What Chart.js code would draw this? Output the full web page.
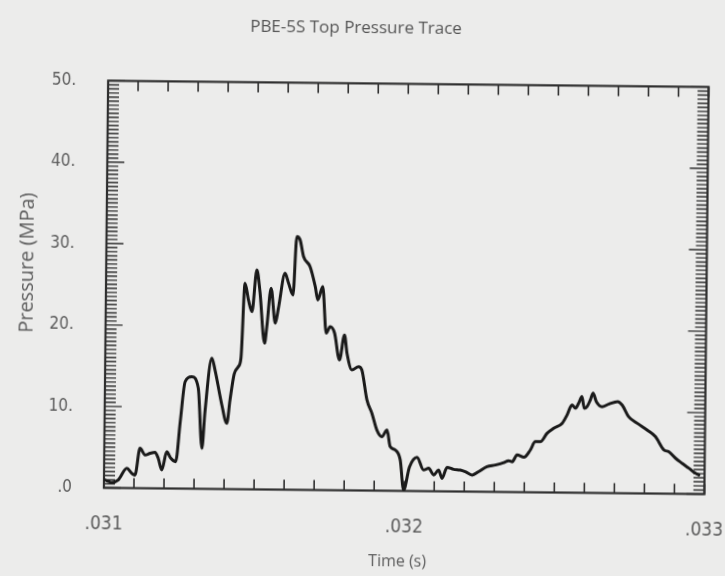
<!DOCTYPE html>
<html>
<head>
<meta charset="utf-8">
<script src="https://cdn.jsdelivr.net/npm/chart.js@4/dist/chart.umd.min.js"></script>
<style>
  html, body { margin: 0; padding: 0; background: #ececeb; overflow: hidden; }
  #wrap { width: 725px; height: 576px; transform: rotate(0.6deg); transform-origin: 50% 50%; }
  canvas { display: block; }
</style>
</head>
<body>
<div id="wrap"><canvas id="c" width="725" height="576"></canvas></div>
<script>
// Top pressure trace, time in seconds, pressure in MPa
const timeSec = [
  0.031003, 0.031026, 0.031047, 0.031076, 0.031092, 0.031103, 0.031119, 0.031136,
  0.031153, 0.031169, 0.031180, 0.031192, 0.031208, 0.031222, 0.031238, 0.031252,
  0.031267, 0.031289, 0.031311, 0.031325, 0.031334, 0.031355, 0.031366, 0.031390,
  0.031407, 0.031417, 0.031430, 0.031443, 0.031452, 0.031463, 0.031475, 0.031487,
  0.031502, 0.031513, 0.031530, 0.031537, 0.031550, 0.031565, 0.031575, 0.031596,
  0.031608, 0.031623, 0.031634, 0.031645, 0.031657, 0.031679, 0.031697, 0.031706,
  0.031722, 0.031735, 0.031748, 0.031763, 0.031780, 0.031796, 0.031805, 0.031822,
  0.031844, 0.031855, 0.031873, 0.031890, 0.031907, 0.031924, 0.031941, 0.031952,
  0.031969, 0.031986, 0.031998, 0.032017, 0.032042, 0.032064, 0.032081, 0.032098,
  0.032114, 0.032126, 0.032142, 0.032164, 0.032186, 0.032203, 0.032226, 0.032247,
  0.032275, 0.032303, 0.032331, 0.032347, 0.032359, 0.032375, 0.032398, 0.032419,
  0.032435, 0.032452, 0.032474, 0.032496, 0.032524, 0.032540, 0.032556, 0.032568,
  0.032578, 0.032589, 0.032597, 0.032606, 0.032617, 0.032626, 0.032637, 0.032656,
  0.032678, 0.032708, 0.032723, 0.032745, 0.032774, 0.032807, 0.032835, 0.032864,
  0.032880, 0.032903, 0.032925, 0.032948, 0.032970, 0.032981
];
const pressureMPa = [
  0.96, 0.68, 0.98, 2.42, 1.82, 1.61, 4.90, 4.08,
  4.30, 4.43, 3.69, 2.26, 4.51, 3.71, 3.30, 8.22,
  13.14, 13.76, 12.34, 4.98, 9.48, 16.05, 14.61, 10.32,
  8.08, 10.95, 14.15, 15.01, 16.12, 25.30, 23.26, 21.82,
  26.95, 24.29, 17.96, 20.00, 24.72, 20.43, 22.28, 26.58,
  25.36, 23.93, 31.09, 30.69, 28.65, 27.43, 24.98, 23.35,
  24.99, 19.27, 20.08, 19.28, 16.00, 19.08, 16.83, 14.79,
  15.20, 14.80, 11.12, 9.50, 7.45, 6.63, 7.46, 5.42,
  5.02, 3.79, 0.11, 2.95, 4.15, 2.60, 2.81, 2.00,
  2.62, 1.60, 2.96, 2.72, 2.64, 2.44, 2.04, 2.46,
  3.08, 3.30, 3.60, 3.85, 3.73, 4.56, 4.29, 5.19,
  6.22, 6.22, 7.26, 7.89, 8.51, 9.54, 10.77, 10.37,
  10.99, 11.81, 10.38, 10.58, 11.41, 12.24, 11.21, 10.60,
  10.91, 11.24, 10.84, 9.41, 8.61, 7.80, 6.99, 5.36,
  5.16, 4.36, 3.75, 3.15, 2.54, 2.34
];

// Axis ranges and labelled ticks
const timeRange = [0.031, 0.033];
const pressureRange = [0, 50];
const timeTicks = [0.031, 0.032, 0.033];
const pressureTicks = [0, 10, 20, 30, 40, 50];
const timeMinorStep = 0.0001;
const pressureMinorStep = 0.5;
const pressureMajorStep = 10;

const inkColor = '#2e2e2e';
const labelColor = '#5c5c5c';
const narrowFont = '"Liberation Sans Narrow", "DejaVu Sans Condensed", "Open Sans", sans-serif';
const textFont = '"Open Sans", "DejaVu Sans", sans-serif';

// Plot frame with inward-pointing tick marks on all four sides
const frameTicks = {
  id: 'frameTicks',
  beforeDatasetsDraw(chart) {
    const { ctx, chartArea: a, scales } = chart;
    const xs = scales.x, ys = scales.y;
    ctx.save();
    ctx.strokeStyle = inkColor;
    ctx.lineCap = 'butt';

    ctx.lineWidth = 1.6;
    const nx = Math.round((timeRange[1] - timeRange[0]) / timeMinorStep);
    for (let i = 0; i <= nx; i++) {
      const px = xs.getPixelForValue(timeRange[0] + i * timeMinorStep);
      ctx.beginPath();
      ctx.moveTo(px, a.bottom); ctx.lineTo(px, a.bottom - 10);
      ctx.moveTo(px, a.top); ctx.lineTo(px, a.top + 10);
      ctx.stroke();
    }

    ctx.lineWidth = 1.4;
    const ny = Math.round((pressureRange[1] - pressureRange[0]) / pressureMinorStep);
    const perMajor = Math.round(pressureMajorStep / pressureMinorStep);
    for (let i = 0; i <= ny; i++) {
      const py = ys.getPixelForValue(pressureRange[0] + i * pressureMinorStep);
      const major = i % perMajor === 0;
      ctx.beginPath();
      ctx.moveTo(a.left, py); ctx.lineTo(a.left + (major ? 17 : 11), py);
      ctx.moveTo(a.right, py); ctx.lineTo(a.right - (major ? 18 : 11), py);
      ctx.stroke();
    }

    ctx.lineWidth = 2.2;
    ctx.strokeRect(a.left, a.top, a.right - a.left, a.bottom - a.top);
    ctx.restore();
  }
};

new Chart(document.getElementById('c'), {
  type: 'line',
  data: {
    datasets: [{
      data: timeSec.map((t, i) => ({ x: t, y: pressureMPa[i] })),
      borderColor: '#1a1a1a',
      borderWidth: 3,
      pointRadius: 0,
      cubicInterpolationMode: 'monotone',
      borderJoinStyle: 'round',
      borderCapStyle: 'round',
      fill: false
    }]
  },
  options: {
    responsive: false,
    animation: false,
    events: [],
    layout: { padding: { left: 0, right: 18.5, top: 0, bottom: 0 } },
    plugins: {
      legend: { display: false },
      tooltip: { enabled: false },
      title: {
        display: true, text: 'PBE-5S Top Pressure Trace', color: '#555555',
        font: { family: textFont, size: 17, weight: 'normal' },
        padding: { top: 18, bottom: 45 }
      }
    },
    scales: {
      x: {
        type: 'linear', position: 'bottom',
        min: timeRange[0], max: timeRange[1],
        afterBuildTicks(s) { s.ticks = timeTicks.map(v => ({ value: v })); },
        afterFit(s) { s.height = 85.5; s.paddingLeft = 0; s.paddingRight = 0; },
        grid: { display: false }, border: { display: false },
        ticks: {
          padding: 17, color: labelColor, maxRotation: 0, autoSkip: false,
          font: { family: narrowFont, size: 19 },
          callback: v => v.toFixed(3).replace(/^0/, '')
        },
        title: {
          display: true, text: 'Time (s)   ', color: labelColor,
          font: { family: textFont, size: 16 }, padding: { top: 0, bottom: 5 }
        }
      },
      y: {
        type: 'linear', position: 'left',
        min: pressureRange[0], max: pressureRange[1],
        afterBuildTicks(s) { s.ticks = pressureTicks.map(v => ({ value: v })); },
        afterFit(s) { s.width = 106; },
        grid: { display: false }, border: { display: false },
        ticks: {
          padding: 24, color: labelColor,
          font: { family: narrowFont, size: 17 },
          callback: v => (v === 0 ? '.0' : v + '.')
        },
        title: {
          display: true, text: '        Pressure (MPa)', color: labelColor,
          font: { family: textFont, size: 20 }, padding: { top: 15, bottom: 0 }
        }
      }
    }
  },
  plugins: [frameTicks]
});
</script>
</body>
</html>
